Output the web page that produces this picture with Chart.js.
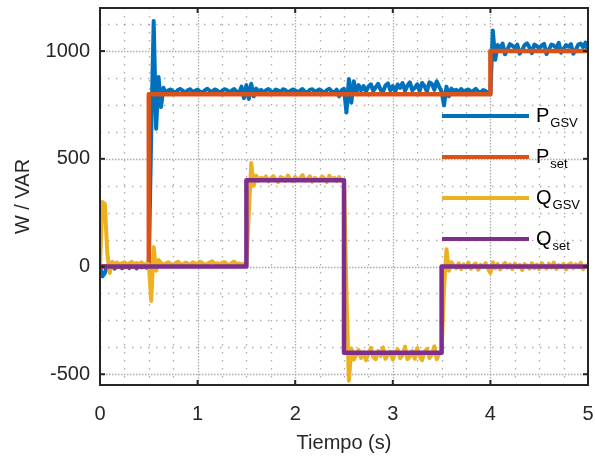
<!DOCTYPE html>
<html>
<head>
<meta charset="utf-8">
<script src="https://cdn.jsdelivr.net/npm/chart.js@4.4.1/dist/chart.umd.min.js"></script>
<style>
  html, body { margin: 0; padding: 0; background: #fff; }
  #wrap { width: 595px; height: 456px; }
</style>
</head>
<body>
<div id="wrap"><canvas id="chart" width="595" height="456"></canvas></div>
<script>
// sample period of the measured signals (s)
const step = 0.025;

// measured active power P_GSV (W), one value per sample
const pGSV = [
  0, -45, -30, 5, -6, 8, -10, 4, 7, -8,
  -3, 9, -7, 2, 10, -9, 5, -4, 8, -6,
  0, 620, 1140, 640, 880, 740, 830, 805, 818, 822,
  812, 806, 820, 824, 815, 808, 819, 823, 810, 816,
  821, 812, 807, 818, 825, 816, 810, 822, 818, 806,
  815, 823, 819, 809, 817, 824, 812, 805, 835, 782,
  842, 778, 848, 790, 826, 812, 820, 806, 818, 824,
  814, 808, 821, 817, 810, 823, 819, 807, 815, 822,
  818, 809, 816, 824, 812, 806, 820, 823, 811, 817,
  822, 814, 808, 819, 825, 813, 807, 821, 790, 818,
  825, 715, 870, 760, 860, 805, 842, 818, 838, 812,
  835, 846, 815, 832, 848, 820, 812, 840, 850, 818,
  838, 812, 845, 829, 852, 815, 840, 855, 818, 829,
  846, 815, 852, 838, 812, 855, 848, 820, 860, 835,
  812, 748, 835, 790, 826, 815, 820, 808, 824, 813,
  818, 822, 810, 816, 825, 812, 807, 819, 815, 805,
  800, 1095, 960, 1028, 1012, 1035, 985, 1008, 1032, 1025,
  1015, 1030, 988, 1005, 1028, 1036, 1018, 990, 1030, 1024,
  1012, 1026, 1034, 986, 1008, 1030, 1025, 1015, 1038, 992,
  1010, 1028, 1020, 1032, 988, 1006, 1030, 1035, 1018, 1040,
  1000
];

// measured reactive power Q_GSV (VAR)
const qGSV = [
  0, 300, 290, 60, -30, 22, 12, 18, 8, 15,
  20, 10, 14, 22, 9, 16, 12, 19, 7, 14,
  10, -160, 90, -20, 30, 18, 8, 14, 20, 12,
  6, 16, 22, 12, 9, 18, 14, 5, 20, 15,
  11, 22, 16, 7, 13, 19, 24, 10, 15, 8,
  18, 21, 12, 6, 16, 23, 11, 14, 9, 12,
  10, 250, 480, 375, 422, 398, 412, 405, 418, 395,
  408, 420, 402, 392, 415, 410, 398, 422, 405, 396,
  416, 402, 410, 424, 398, 407, 419, 394, 412, 404,
  398, 418, 408, 392, 421, 403, 412, 396, 415, 400,
  400, -120, -530, -380, -432, -410, -388, -425, -398, -435,
  -405, -378, -420, -430, -392, -415, -375, -428, -410, -395,
  -432, -400, -385, -425, -412, -372, -430, -418, -392, -428,
  -378, -415, -435, -398, -382, -425, -410, -370, -430, -405,
  -400, -100, 80, -20, 20, 5, -8, 15, -12, 10,
  -5, 18, -10, 6, 14, -15, 8, -3, 16, -9,
  -30, 20, -8, 12, -14, 5, 17, -6, 10, -12,
  14, -4, 8, -16, 11, 3, -10, 15, -7, 9,
  -12, 16, 2, -9, 13, -5, 18, -11, 6, -2,
  12, -14, 7, 15, -8, 10, -3, 17, -12, 5,
  0
];
const tGSV = pGSV.map((_, i) => +(i * step).toFixed(3));

// setpoints (step changes)
const tPset = [0, 0.5, 0.5, 4, 4, 5];
const pSet = [0, 0, 800, 800, 1000, 1000];
const tQset = [0, 1.5, 1.5, 2.5, 2.5, 3.5, 3.5, 5];
const qSet = [0, 0, 400, 400, -400, -400, 0, 0];

// ticks and grid
const xTicks = [0, 1, 2, 3, 4, 5];
const yTicks = [-500, 0, 500, 1000];
const xMinor = [0.25, 0.5, 0.75, 1.25, 1.5, 1.75, 2.25, 2.5, 2.75, 3.25, 3.5, 3.75, 4.25, 4.5, 4.75];
const yMinor = [-375, -250, -125, 125, 250, 375, 625, 750, 875, 1125];

const legendMain = ['P', 'P', 'Q', 'Q'];
const legendSub = ['GSV', 'set', 'GSV', 'set'];
const colors = ['#0072BD', '#D95319', '#EDB120', '#7E2F8E'];

const FONT = '"Liberation Sans", Arial, Helvetica, sans-serif';
const pts = (xs, ys) => xs.map((x, i) => ({ x: x, y: ys[i] }));

function seg(ctx, x1, y1, x2, y2) {
  ctx.beginPath();
  ctx.moveTo(x1, y1);
  ctx.lineTo(x2, y2);
  ctx.stroke();
}

const frame = {
  id: 'frame',
  beforeDatasetsDraw(chart) {
    const { ctx, chartArea: a, scales: { x, y } } = chart;
    ctx.save();
    // minor grid, sparse dots
    ctx.strokeStyle = 'rgba(120,120,120,0.6)';
    ctx.lineWidth = 1.3;
    ctx.setLineDash([1.5, 6.5]);
    xMinor.forEach(v => { const px = Math.round(x.getPixelForValue(v)) + 0.5; seg(ctx, px, a.top, px, a.bottom); });
    yMinor.forEach(v => { const py = Math.round(y.getPixelForValue(v)) + 0.5; seg(ctx, a.left, py, a.right, py); });
    // major grid, dense dots
    ctx.strokeStyle = 'rgba(150,150,150,0.8)';
    ctx.lineWidth = 1.3;
    ctx.setLineDash([1.5, 1.5]);
    xTicks.slice(1, -1).forEach(v => { const px = Math.round(x.getPixelForValue(v)) + 0.5; seg(ctx, px, a.top, px, a.bottom); });
    yTicks.forEach(v => { const py = Math.round(y.getPixelForValue(v)) + 0.5; seg(ctx, a.left, py, a.right, py); });
    ctx.restore();
  },
  afterDatasetsDraw(chart) {
    const { ctx, chartArea: a, scales: { x, y } } = chart;
    ctx.save();
    ctx.strokeStyle = '#262626';
    ctx.lineWidth = 2;
    ctx.setLineDash([]);
    ctx.strokeRect(a.left, a.top, a.right - a.left, a.bottom - a.top);
    const tl = 5;
    xTicks.forEach(v => {
      const px = x.getPixelForValue(v);
      seg(ctx, px, a.bottom, px, a.bottom - tl);
      seg(ctx, px, a.top, px, a.top + tl);
    });
    yTicks.forEach(v => {
      const py = y.getPixelForValue(v);
      seg(ctx, a.left, py, a.left + tl, py);
      seg(ctx, a.right, py, a.right - tl, py);
    });

    // legend (no box), entries with subscripts
    const lx0 = a.left + 342, lx1 = a.left + 429, tx = a.left + 436;
    legendMain.forEach((m, i) => {
      const ly = 116 + i * 41;
      ctx.strokeStyle = colors[i];
      ctx.lineWidth = 4;
      seg(ctx, lx0, ly, lx1, ly);
      ctx.fillStyle = '#000';
      ctx.textBaseline = 'alphabetic';
      ctx.textAlign = 'left';
      ctx.font = '20px ' + FONT;
      ctx.fillText(m, tx, ly + 6);
      const w = ctx.measureText(m).width;
      ctx.font = '13px ' + FONT;
      ctx.fillText(legendSub[i], tx + w + 1, ly + 11);
    });
    ctx.restore();
  }
};

const ctx = document.getElementById('chart').getContext('2d');
new Chart(ctx, {
  type: 'line',
  data: {
    datasets: [
      { label: 'P_GSV', data: pts(tGSV, pGSV), borderColor: colors[0], borderWidth: 4, order: 4 },
      { label: 'P_set', data: pts(tPset, pSet), borderColor: colors[1], borderWidth: 4.5, order: 3 },
      { label: 'Q_GSV', data: pts(tGSV, qGSV), borderColor: colors[2], borderWidth: 4, order: 2 },
      { label: 'Q_set', data: pts(tQset, qSet), borderColor: colors[3], borderWidth: 4.5, order: 1 }
    ]
  },
  options: {
    responsive: false,
    animation: false,
    elements: { point: { radius: 0 }, line: { tension: 0, borderJoinStyle: 'round' } },
    layout: { padding: { top: 8, right: 7, left: 0, bottom: 0 } },
    plugins: { legend: { display: false }, tooltip: { enabled: false } },
    scales: {
      x: {
        type: 'linear',
        min: 0,
        max: 5,
        afterBuildTicks: s => { s.ticks = xTicks.map(v => ({ value: v })); },
        afterFit: s => { s.height = 71; s.paddingLeft = 0; s.paddingRight = 0; },
        grid: { display: false },
        border: { display: false },
        ticks: { color: '#262626', font: { family: FONT, size: 20 }, padding: 9, maxRotation: 0, callback: v => String(v) },
        title: { display: true, text: 'Tiempo (s)', color: '#262626', font: { family: FONT, size: 20 }, padding: { top: 0, bottom: 1 } }
      },
      y: {
        type: 'linear',
        min: -550,
        max: 1200,
        afterBuildTicks: s => { s.ticks = yTicks.map(v => ({ value: v })); },
        afterFit: s => { s.width = 100; s.paddingTop = 0; s.paddingBottom = 0; },
        grid: { display: false },
        border: { display: false },
        ticks: { color: '#262626', font: { family: FONT, size: 20 }, padding: 2, callback: v => String(v) },
        title: { display: true, text: 'W / VAR', color: '#262626', font: { family: FONT, size: 20 }, padding: { top: 11, bottom: 0 } }
      }
    }
  },
  plugins: [frame]
});
</script>
</body>
</html>
